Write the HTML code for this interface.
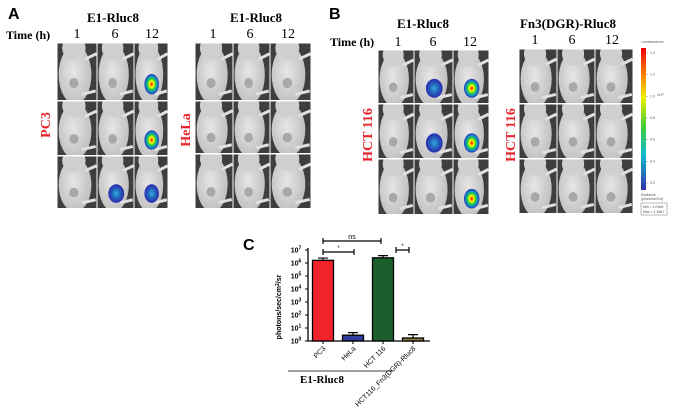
<!DOCTYPE html>
<html><head><meta charset="utf-8"><style>
html,body{margin:0;padding:0;background:#fff;}
svg{display:block;}
.serif{font-family:"Liberation Serif",serif;}
.sans{font-family:"Liberation Sans",sans-serif;}
</style></head><body>
<svg id="fig" width="677" height="412" viewBox="0 0 677 412" xmlns="http://www.w3.org/2000/svg">
<defs>
<radialGradient id="sig" cx="50%" cy="50%" r="50%">
<stop offset="0" stop-color="#e00"/><stop offset="0.3" stop-color="#ff0"/><stop offset="0.55" stop-color="#2c4"/><stop offset="0.8" stop-color="#18c"/><stop offset="1" stop-color="#2a2ab0"/></radialGradient>
<radialGradient id="sigb" cx="50%" cy="50%" r="50%">
<stop offset="0" stop-color="#3ad"/><stop offset="0.5" stop-color="#26b"/><stop offset="1" stop-color="#2a2ab0"/></radialGradient>
<radialGradient id="body" cx="45%" cy="45%" r="60%">
<stop offset="0" stop-color="#e6e6e6"/><stop offset="1" stop-color="#bdbdbd"/></radialGradient>
<linearGradient id="cbar" x1="0" y1="0" x2="0" y2="1">
<stop offset="0" stop-color="#e00"/><stop offset="0.2" stop-color="#f80"/><stop offset="0.35" stop-color="#ee0"/><stop offset="0.55" stop-color="#4c3"/><stop offset="0.75" stop-color="#1bc"/><stop offset="1" stop-color="#33a"/></linearGradient>
</defs>
<g class="sans" font-weight="bold" font-size="16">
<text x="8" y="19">A</text>
<text x="329" y="19">B</text>
<text x="243" y="250">C</text>
</g>
<g class="serif" font-weight="bold" font-size="13" text-anchor="middle">
<text x="113" y="22">E1-Rluc8</text>
<text x="256" y="22">E1-Rluc8</text>
<text x="423" y="28">E1-Rluc8</text>
<text x="568" y="28">Fn3(DGR)-Rluc8</text>
</g>
<g class="serif" font-weight="bold" font-size="12">
<text x="6" y="39">Time (h)</text>
<text x="330" y="46">Time (h)</text>
</g>
<g class="serif" font-weight="bold" font-size="14" fill="#e8262c" text-anchor="middle">
<text transform="translate(50,125) rotate(-90)">PC3</text>
<text transform="translate(190,130) rotate(-90)">HeLa</text>
<text transform="translate(372,135) rotate(-90)">HCT 116</text>
<text transform="translate(515,135) rotate(-90)">HCT 116</text>
</g>
<g id="grids"></g>
<g>
<text x="641" y="43" font-size="3.5" class="sans" fill="#555">Luminescence</text>
<rect x="641" y="48" width="5" height="142" fill="url(#cbar)"/>
<g id="cbticks" class="sans" font-size="3.5" fill="#555"></g>
<text x="641" y="196" font-size="3.5" class="sans" fill="#555">Radiance</text>
<text x="641" y="200" font-size="3.5" class="sans" fill="#555">(p/sec/cm2/sr)</text>
<rect x="641" y="203" width="26" height="12" fill="none" stroke="#777" stroke-width="0.5"/>
<text x="643" y="208" font-size="3.5" class="sans" fill="#555">Min = 1.03e5</text>
<text x="643" y="213" font-size="3.5" class="sans" fill="#555">Max = 1.45e7</text>
</g>
<g id="chart" class="sans"></g>
</svg>
<script>
const NS="http://www.w3.org/2000/svg";
function mk(p,t,a){const e=document.createElementNS(NS,t);for(const k in a)e.setAttribute(k,a[k]);p.appendChild(e);return e;}
const grids=[
 {cols:[57,97,134,168],rows:[43,101,156,209],lx:[77,115,152],ly:38,sig:{"0,2":"r","1,2":"r","2,1":"b","2,2":"b"}},
 {cols:[195,233,270,311],rows:[43,101,154,209],lx:[213,250,288],ly:38,sig:{}},
 {cols:[378,414,453,489],rows:[50,104,159,215],lx:[398,433,470],ly:46,sig:{"0,1":"b","0,2":"r","1,1":"b","1,2":"r","2,2":"r"}},
 {cols:[519,557,595,633],rows:[49,104,159,214],lx:[535,572,612],ly:44,sig:{}}
];
const G=document.getElementById('grids');
grids.forEach((g,gi)=>{
 const gg=mk(G,'g',{});
 
 
 g.lx.forEach((x,i)=>{const t=mk(gg,'text',{x:x,y:g.ly,'font-size':14,'text-anchor':'middle','class':'serif'});t.textContent=['1','6','12'][i];
  });
 for(let r=0;r<3;r++)for(let c=0;c<3;c++){
  const x0=g.cols[c]+0.5,x1=g.cols[c+1]-0.5,y0=g.rows[r]+0.5,y1=g.rows[r+1]-1;
  const w=x1-x0,h=y1-y0;
  const cell=mk(gg,'g',{});
  
  
  mk(cell,'rect',{x:x0,y:y0,width:w,height:h,fill:'#3e3e3e'});
  const clip='c'+gi+r+c;
  const cp=mk(cell,'clipPath',{id:clip});mk(cp,'rect',{x:x0,y:y0,width:w,height:h});
  const m=mk(cell,'g',{'clip-path':`url(#${clip})`});
  mk(m,'ellipse',{cx:x0+w*0.45,cy:y0+h*0.55,rx:w*0.42,ry:h*0.52,fill:'url(#body)'});
  mk(m,'ellipse',{cx:x0+w*0.42,cy:y0+h*0.08,rx:w*0.3,ry:h*0.22,fill:'#cfcfcf'});
  mk(m,'path',{d:`M${x0+w*0.7} ${y0+h*0.28} l${w*0.3} ${-h*0.1}`,stroke:'#e0e0e0','stroke-width':3});
  mk(m,'path',{d:`M${x0+w*0.62} ${y0+h*0.9} l${w*0.36} ${-h*0.06}`,stroke:'#e0e0e0','stroke-width':3});
  mk(m,'ellipse',{cx:x0+w*0.42,cy:y0+h*0.7,rx:w*0.12,ry:h*0.09,fill:'#a8a8a8'});
  const s=g.sig[r+','+c];
  if(s){const b=mk(m,'ellipse',{cx:x0+w*0.52,cy:y0+h*0.72,rx:w*0.22,ry:h*0.18,fill:s=='r'?'url(#sig)':'url(#sigb)'});
   }
 }
});
const cbLabels=["1.4","1.2","1.0","0.8","0.6","0.4","0.2"];
const CB=document.getElementById('cbticks');
cbLabels.forEach((l,i)=>{const y=53+i*(130/6);mk(CB,'line',{x1:646,x2:648,y1:y,y2:y,stroke:'#777','stroke-width':0.4});
 const t=mk(CB,'text',{x:650,y:y+1});t.textContent=l;});
{const t=mk(CB,'text',{x:657,y:96});t.textContent="x10⁷";}

// ===== Chart C =====
const categories=["PC3","HeLa","HCT 116","HCT116_Fn3(DGR)-Rluc8"];
const values=[1.6e6,2.8,2.5e6,1.7];
const errors=[0.8e6,1.6,1.2e6,1.4];
const colors=["#f0222a","#2e3d9c","#1c5f2c","#8b7f45"];
const tickExps=[0,1,2,3,4,5,6,7];
const C=document.getElementById('chart');
const X0=308,XEND=430,Y0=341,STEP=13;
const yS=v=>Y0-Math.log10(Math.max(v,1))*STEP;
const xS=i=>323+i*30;
mk(C,'line',{x1:X0,x2:X0,y1:yS(1e7)-2,y2:Y0,stroke:'#000','stroke-width':1.3});
mk(C,'line',{x1:X0,x2:XEND,y1:Y0,y2:Y0,stroke:'#000','stroke-width':1.3});
tickExps.forEach(e=>{const y=yS(Math.pow(10,e));
 const l=mk(C,'line',{x1:X0-3,x2:X0,y1:y,y2:y,stroke:'#000','stroke-width':1});
 
 const t=mk(C,'text',{x:X0-12,y:y+2.5,'font-size':7,'font-weight':'bold','text-anchor':'middle'});
 
 t.textContent='10';const s=mk(t,'tspan',{dy:-3,'font-size':5});s.textContent=String(e);});
const yt=mk(C,'text',{transform:`translate(281,${yS(1e3)+5}) rotate(-90)`,'font-size':7,'font-weight':'bold','text-anchor':'middle'});

yt.innerHTML='photons/sec/cm<tspan dy="-2" font-size="5">2</tspan><tspan dy="2">/sr</tspan>';
categories.forEach((c,i)=>{
 const cx=xS(i),w=21,top=yS(values[i]);
 const b=mk(C,'rect',{x:cx-w/2,y:top,width:w,height:Y0-top,fill:colors[i],stroke:'#000','stroke-width':1.3});
 
 
 const et=yS(values[i]+errors[i]);
 const e=mk(C,'path',{d:`M${cx} ${top} V${et} M${cx-5} ${et} H${cx+5}`,stroke:'#000','stroke-width':1.2,fill:'none'});
 
 mk(C,'line',{x1:cx,x2:cx,y1:Y0,y2:Y0+3,stroke:'#000','stroke-width':1});
 const t=mk(C,'text',{transform:`translate(${cx+3},${Y0+8}) rotate(-45)`,'font-size':7,'text-anchor':'end'});
 
 t.textContent=c;
});
const brackets=[[0,2,"ns",241],[0,1,"*",252],[2,3,"*",250]];
brackets.forEach(([a,b,l,y])=>{
 const x2=l=="ns"?xS(b)-2:xS(b)-(a==0?-1:4);
 const xa=a==2?xS(a)+13:xS(a);
 const p=mk(C,'path',{d:`M${xa} ${y-3} V${y+3} M${xa} ${y} H${x2} M${x2} ${y-3} V${y+3}`,stroke:'#000','stroke-width':1.2,fill:'none'});
 
 const t=mk(C,'text',{x:(xa+x2)/2,y:y-2,'font-size':l=="ns"?7:6,'text-anchor':'middle'});
 
 t.textContent=l;
});
const gl=mk(C,'line',{x1:288,x2:393,y1:371,y2:371,stroke:'#000','stroke-width':0.8});

const gt=mk(C,'text',{x:322,y:383,'font-size':11,'font-weight':'bold','text-anchor':'middle','class':'serif'});

gt.textContent='E1-Rluc8';
</script>
</body></html>
